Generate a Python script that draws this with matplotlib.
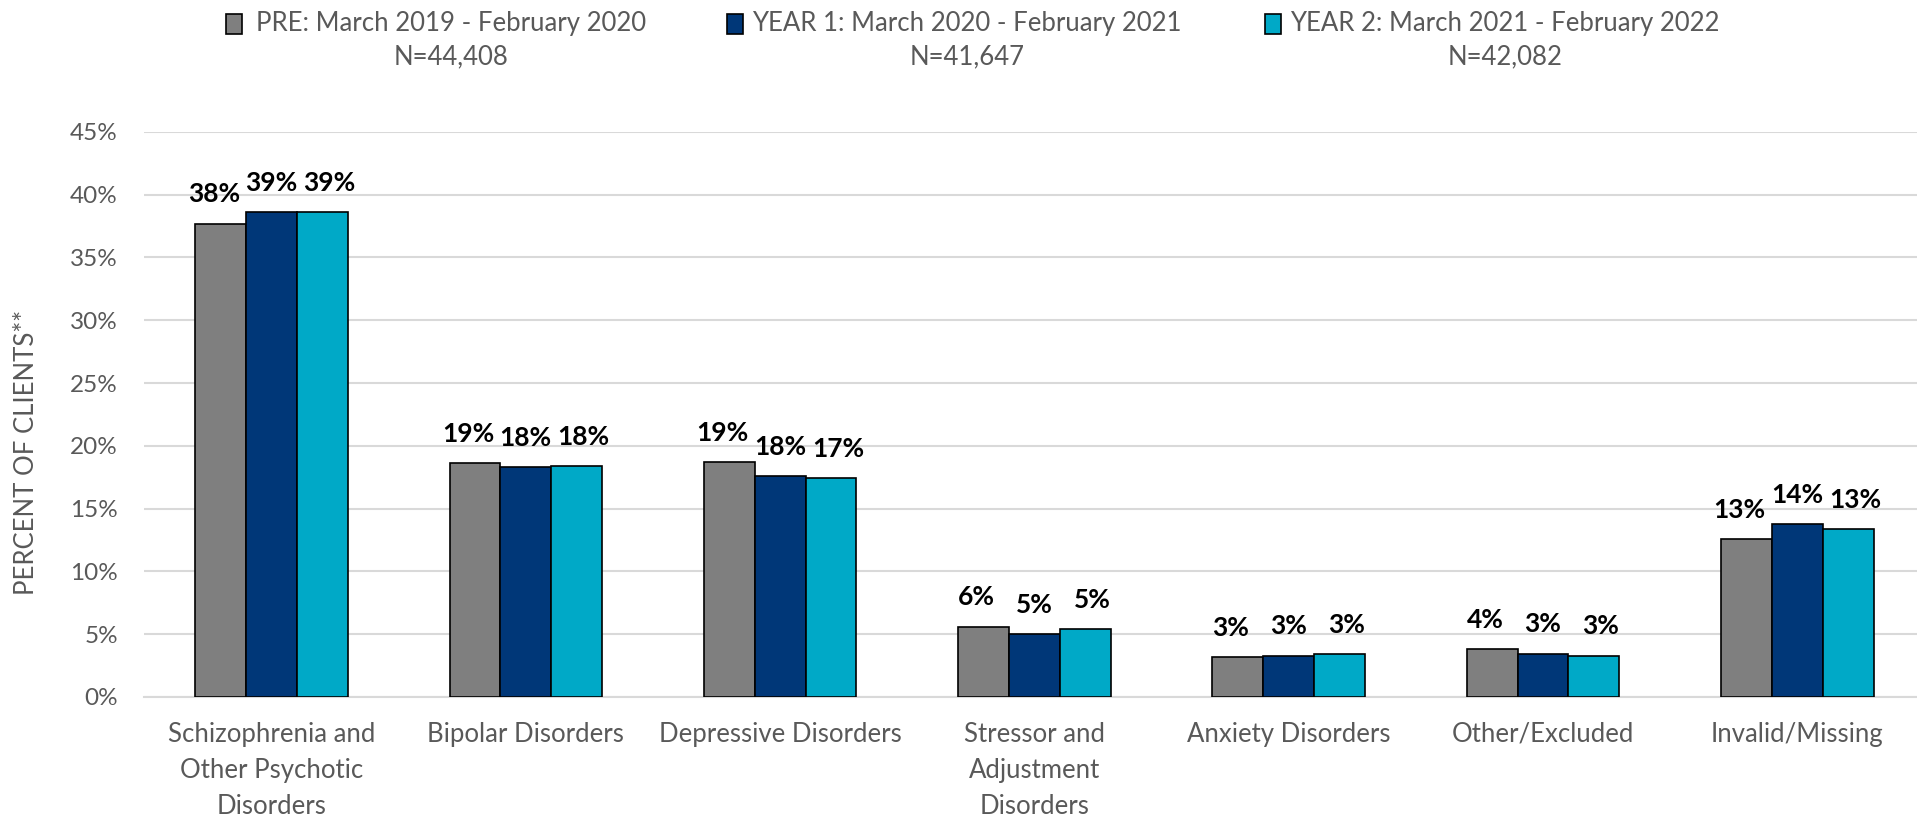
import numpy as np
import matplotlib
matplotlib.use("Agg")
import matplotlib.pyplot as plt
from matplotlib.patches import Rectangle

plt.rcParams['font.family'] = ['Lato', 'DejaVu Sans']

# categories and series (percent of clients)
categories = ["Schizophrenia and\nOther Psychotic\nDisorders", "Bipolar Disorders",
              "Depressive Disorders", "Stressor and\nAdjustment\nDisorders",
              "Anxiety Disorders", "Other/Excluded", "Invalid/Missing"]
pre = [37.7, 18.6, 18.7, 5.6, 3.2, 3.8, 12.6]
year1 = [38.6, 18.3, 17.6, 5.0, 3.3, 3.45, 13.8]
year2 = [38.6, 18.4, 17.4, 5.4, 3.4, 3.3, 13.4]
series_names = ["PRE: March 2019 - February 2020",
                "YEAR 1: March 2020 - February 2021",
                "YEAR 2: March 2021 - February 2022"]
series_n = ["N=44,408", "N=41,647", "N=42,082"]
colors = ["#7f7f7f", "#003778", "#00a9c7"]

grey_text = "#595959"

fig = plt.figure(figsize=(19.17, 8.19), dpi=100)
ax = fig.add_axes([0.0753, 0.149, 0.9286, 0.690])

x = np.arange(len(categories))
w = 0.2
label_dx = [-5, 0, 5]  # spread the value labels a little so they don't collide
for i, vals in enumerate([pre, year1, year2]):
    pos = x + (i - 1) * w
    ax.bar(pos, np.array(vals) / 100, width=w, color=colors[i],
           edgecolor="black", linewidth=1.2, zorder=3)
    for px, v in zip(pos, vals):
        ax.annotate(f"{int(v + 0.5)}%", (px, v / 100), xytext=(label_dx[i], 21),
                    textcoords="offset points", ha="center", va="center",
                    fontsize=19, fontweight="bold", color="black")

ax.set_xlim(-0.5, 6.5)
ax.set_ylim(0, 0.45)
ticks = np.arange(0, 0.451, 0.05)
ax.set_yticks(ticks)
ax.set_yticklabels([f"{int(round(t * 100))}%" for t in ticks])
ax.yaxis.grid(True, color="#d9d9d9", linewidth=1.5, zorder=0)
ax.set_axisbelow(True)
for s in ["top", "right", "left"]:
    ax.spines[s].set_visible(False)
ax.spines["bottom"].set_color("#d9d9d9")
ax.spines["bottom"].set_linewidth(1.5)
ax.tick_params(axis="y", length=0, pad=19, labelsize=17.5, labelcolor=grey_text)
ax.tick_params(axis="x", length=0, pad=18, labelsize=18.5, labelcolor=grey_text)
ax.set_xticks(x)
ax.set_xticklabels(categories, linespacing=1.55, va="top")

W, H = 1917, 819
fig.text(27 / W, 1 - 452 / H, "PERCENT OF CLIENTS**", rotation=90, ha="center",
         va="center", fontsize=18.5, color=grey_text)

# legend drawn along the top, each with its N underneath
marker_x = [226, 727, 1265]
text_cx = [451, 967, 1505]
for i in range(3):
    fig.patches.append(Rectangle((marker_x[i] / W, 1 - 34 / H), 16 / W, 20 / H,
                                 transform=fig.transFigure, facecolor=colors[i],
                                 edgecolor="black", linewidth=1.2))
    fig.text(text_cx[i] / W, 1 - 24 / H, series_names[i], ha="center", va="center",
             fontsize=18.5, color=grey_text)
    fig.text(text_cx[i] / W, 1 - 57 / H, series_n[i], ha="center", va="center",
             fontsize=18.5, color=grey_text)

fig.savefig("out.png", dpi=100)
